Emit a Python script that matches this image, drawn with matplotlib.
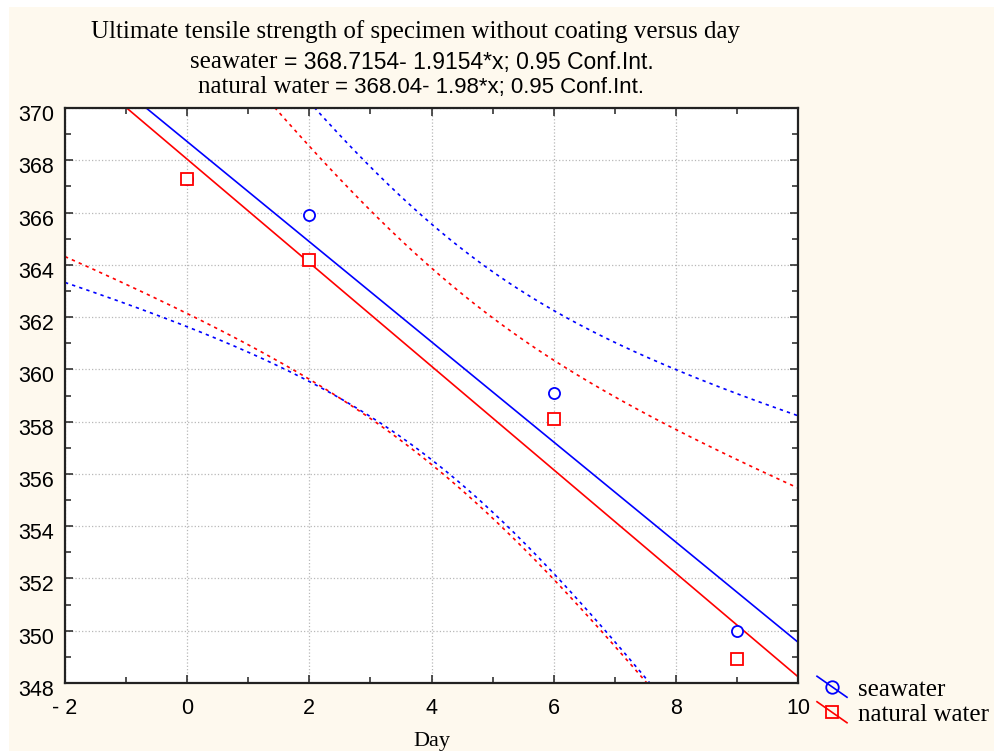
import numpy as np
import matplotlib.pyplot as plt
from matplotlib.legend_handler import HandlerLine2D
from matplotlib.patches import Rectangle
from matplotlib.transforms import ScaledTranslation

# data (seawater at day 0 is hidden under the red square)
days = [0, 2, 6, 9]
seawater = [367.3, 365.9, 359.1, 350.0]
natural_water = [367.3, 364.2, 358.1, 348.9]

x_ticks = [-2, 0, 2, 4, 6, 8, 10]
x_tick_labels = ['- 2', '0', '2', '4', '6', '8', '10']
y_ticks = list(range(348, 371, 2))

T_CRIT = 4.3027  # t(0.975), 2 degrees of freedom

SERIF = 'Liberation Serif'
SANS = 'Liberation Sans'
CREAM = '#fef9ee'


def fit_band(x, y, xs):
    x = np.asarray(x, float)
    y = np.asarray(y, float)
    b, a = np.polyfit(x, y, 1)
    resid = y - (a + b * x)
    s = np.sqrt(np.sum(resid ** 2) / (len(x) - 2))
    sxx = np.sum((x - x.mean()) ** 2)
    fit = a + b * xs
    half = T_CRIT * s * np.sqrt(1 / len(x) + (xs - x.mean()) ** 2 / sxx)
    return fit, fit - half, fit + half


class SlopedLine(HandlerLine2D):
    # legend handle with the line running diagonally through the marker
    def create_artists(self, legend, orig_handle, xdescent, ydescent,
                       width, height, fontsize, trans):
        arts = super().create_artists(legend, orig_handle, xdescent, ydescent,
                                      width, height, fontsize, trans)
        mid = (height - ydescent) / 2
        n = len(arts[0].get_xdata())
        arts[0].set_ydata(np.linspace(mid + 0.6 * height, mid - 0.6 * height, n))
        return arts


fig = plt.figure(figsize=(9.95, 7.53), dpi=100)
fig.patch.set_facecolor('white')
fig.add_artist(Rectangle((9 / 995, 2 / 753), 1, 744 / 753, transform=fig.transFigure,
                         facecolor=CREAM, edgecolor='none', zorder=-1))

ax = fig.add_axes([65 / 995, 1 - 683 / 753, 733 / 995, 575 / 753])
ax.set_facecolor('white')

xs = np.linspace(-2, 10, 300)
series = [(seawater, 'blue', 'o', 'seawater'),
          (natural_water, 'red', 's', 'natural water')]

handles = []
for y, col, mk, name in series:
    fit, lo, hi = fit_band(days, y, xs)
    ax.plot(xs, fit, color=col, lw=1.2)
    ax.plot(xs, lo, color=col, lw=1.2, linestyle=(0, (2, 2.5)))
    ax.plot(xs, hi, color=col, lw=1.2, linestyle=(0, (2, 2.5)))

for y, col, mk, name in series:
    ax.plot(days, y, linestyle='none', marker=mk, markersize=8,
            markerfacecolor='white', markeredgecolor=col, markeredgewidth=1.3)
    handles.append(plt.Line2D([], [], color=col, lw=1.2, marker=mk, markersize=9,
                              markerfacecolor='none', markeredgecolor=col,
                              markeredgewidth=1.3, label=name))

ax.set_xlim(-2, 10)
ax.set_ylim(348, 370)
ax.set_xticks(x_ticks)
ax.set_xticklabels(x_tick_labels)
ax.set_yticks(y_ticks)
ax.set_xticks(np.arange(-1, 10, 2), minor=True)
ax.set_yticks(np.arange(349, 370, 2), minor=True)
ax.tick_params(which='both', direction='in', top=True, right=True,
               color='#222222', width=1.1)
ax.tick_params(which='major', length=6)
ax.tick_params(which='minor', length=4)
ax.tick_params(axis='x', pad=11)
ax.tick_params(axis='y', pad=8)
for lab in ax.get_xticklabels() + ax.get_yticklabels():
    lab.set_fontfamily(SANS)
    lab.set_fontsize(15.5)
# y labels sit a little below their ticks in the original
shift = ScaledTranslation(0, -5 / 100, fig.dpi_scale_trans)
for lab in ax.get_yticklabels():
    lab.set_transform(lab.get_transform() + shift)
ax.grid(True, which='major', linestyle=':', color='#b8b8b8', lw=0.9)
for sp in ax.spines.values():
    sp.set_color('#222222')
    sp.set_linewidth(1.6)

ax.set_xlabel('Day', family=SERIF, fontsize=16, labelpad=9)

fig.text(416 / 995, 1 - 32 / 753,
         'Ultimate tensile strength of specimen without coating versus day',
         ha='center', va='center', family=SERIF, fontsize=18)
fig.text(277 / 995, 1 - 62 / 753, 'seawater', ha='right', va='center',
         family=SERIF, fontsize=18)
fig.text(284 / 995, 1 - 62 / 753, '= 368.7154- 1.9154*x; 0.95 Conf.Int.',
         ha='left', va='center', family=SANS, fontsize=16.5)
fig.text(329 / 995, 1 - 87 / 753, 'natural water', ha='right', va='center',
         family=SERIF, fontsize=18)
fig.text(335 / 995, 1 - 87 / 753, '= 368.04- 1.98*x; 0.95 Conf.Int.',
         ha='left', va='center', family=SANS, fontsize=16)

ax.legend(handles=handles, loc='center left', bbox_to_anchor=(817 / 995, 1 - 702 / 753),
          bbox_transform=fig.transFigure, frameon=False, numpoints=1,
          handlelength=1.2, handletextpad=0.45, labelspacing=0.12,
          borderpad=0, borderaxespad=0,
          prop={'family': SERIF, 'size': 18},
          handler_map={plt.Line2D: SlopedLine()})

fig.savefig('out.png', dpi=100, facecolor=fig.get_facecolor())
